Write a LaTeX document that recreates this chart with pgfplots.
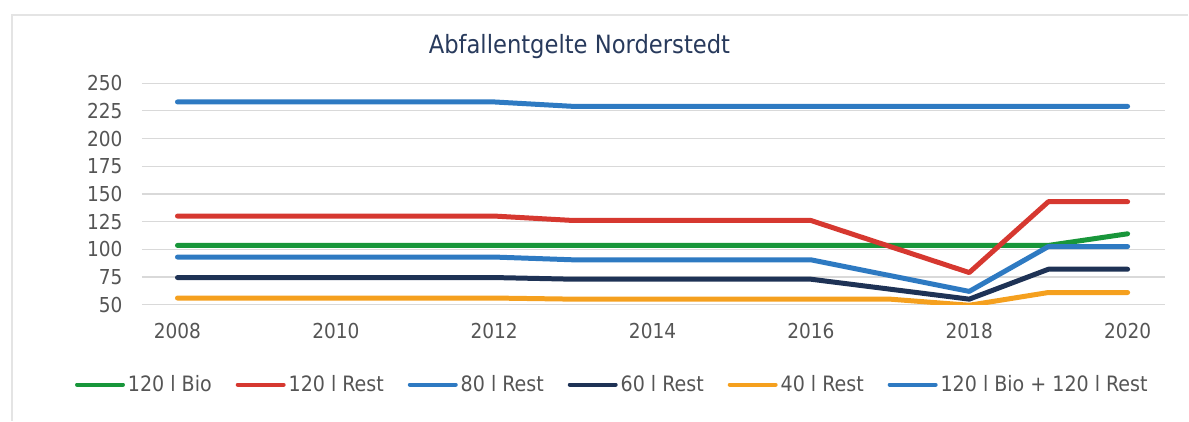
\documentclass[border=0pt]{standalone}
\usepackage{fontspec}
\setmainfont{DejaVu Sans Condensed}
\usepackage{pgfplots}
\pgfplotsset{compat=1.18}
\definecolor{cgreen}{RGB}{24,150,58}
\definecolor{cred}{RGB}{214,56,48}
\definecolor{cblue}{RGB}{46,122,194}
\definecolor{cnavy}{RGB}{30,50,85}
\definecolor{corange}{RGB}{245,160,30}
\definecolor{ctitle}{RGB}{40,58,92}
\definecolor{ctext}{RGB}{85,85,85}
\definecolor{cgrid}{RGB}{217,217,217}
\begin{document}
\begin{tikzpicture}
\path (-71pt,-58pt) rectangle (523.5pt,152.5pt);
\draw[cgrid!70, line width=1.2pt] (-65pt,-58pt) -- (-65pt,145pt) -- (523.5pt,145pt);
\begin{axis}[
  at={(0,0)}, anchor=south west,
  scale only axis, width=512pt, height=110.9pt,
  xmin=2007.55, xmax=2020.47, ymin=50, ymax=250,
  xtick={2008,2010,...,2020}, ytick={50,75,...,250},
  axis line style={draw=none}, major tick length=0pt,
  ymajorgrids, grid style={cgrid, line width=0.6pt},
  x tick label style={/pgf/number format/1000 sep={}},
  /pgf/number format/assume math mode=true,
  tick label style={font=\fontsize{10.3}{12}\selectfont, text=ctext},
  yticklabel style={anchor=east, inner sep=0pt, xshift=-9.5pt},
  xticklabel style={anchor=north, inner sep=0pt, yshift=-9pt},
  legend style={at={(0.4604,-0.3607)}, anchor=center, draw=none, fill=none,
    font=\fontsize{10.6}{12}\selectfont, text=ctext, legend columns=-1,
    /tikz/every even column/.append style={column sep=10.5pt},
    inner sep=0pt, nodes={inner sep=1.5pt}},
  legend image code/.code={\draw[#1, line width=2pt] (0pt,0pt) -- (23pt,0pt);},
  every axis plot/.append style={line width=2.5pt, line cap=round, line join=round},
]
\addplot[cgreen] coordinates {(2008,103.5) (2012,103.5) (2013,103.5) (2016,103.5) (2018,103.5) (2019,103.5) (2020,114)};
\addlegendentry{120 l Bio}
\addplot[cred] coordinates {(2008,130) (2012,130) (2013,126) (2016,126) (2018,79) (2019,143) (2020,143)};
\addlegendentry{120 l Rest}
\addplot[cblue] coordinates {(2008,93) (2012,93) (2013,90.5) (2016,90.5) (2018,62) (2019,102.5) (2020,102.5)};
\addlegendentry{80 l Rest}
\addplot[cnavy] coordinates {(2008,74.5) (2012,74.5) (2013,73) (2016,73) (2018,55) (2019,82) (2020,82)};
\addlegendentry{60 l Rest}
\addplot[corange] coordinates {(2008,56) (2012,56) (2013,55) (2017,55) (2018,49.5) (2019,61) (2020,61)};
\addlegendentry{40 l Rest}
\addplot[cblue] coordinates {(2008,233) (2012,233) (2013,229) (2016,229) (2018,229) (2019,229) (2020,229)};
\addlegendentry{120 l Bio + 120 l Rest}
\end{axis}
\node[text=ctitle, font=\fontsize{12.6}{14}\selectfont] at (219pt,129pt) {Abfallentgelte Norderstedt};
\end{tikzpicture}
\end{document}
